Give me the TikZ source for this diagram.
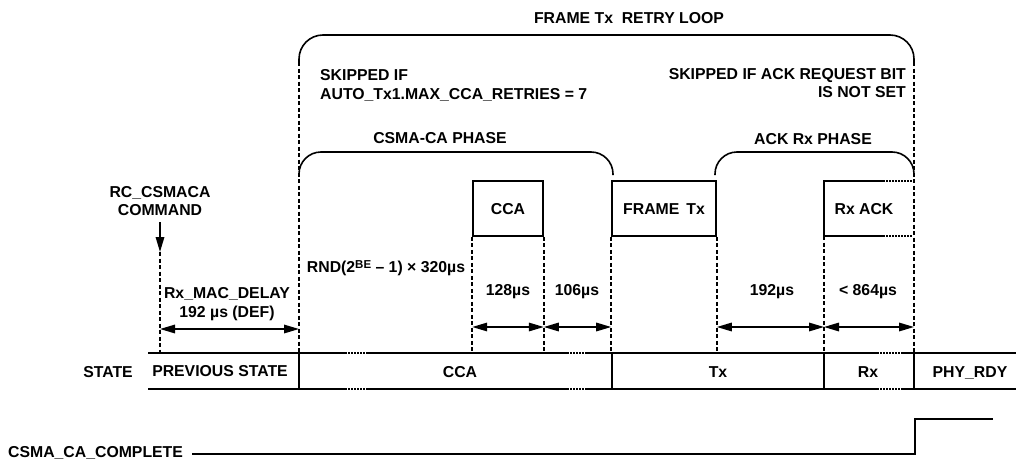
\documentclass[tikz,border=0pt]{standalone}
\usepackage{fontspec}
\setmainfont{Liberation Sans}
\usetikzlibrary{arrows.meta}
\begin{document}
\begin{tikzpicture}[x=1pt,y=-1pt,
  every node/.style={inner sep=0pt, text height=11.3pt, text depth=0pt},
  font=\bfseries\fontsize{15.8}{18}\selectfont,
  sol/.style={line width=1.6pt},
  dsh/.style={line width=1.5pt, dash pattern=on 4pt off 2.5pt},
  dtt/.style={line width=1.6pt, dash pattern=on 1.5pt off 1.5pt},
  tipA/.tip={Triangle[length=15pt,width=8.5pt]},
  dimarr/.style={line width=1.6pt, tipA-tipA},
  downarr/.style={line width=1.6pt, -tipA},
  boxn/.style={draw, line width=1.6pt, minimum width=#1, minimum height=55pt}]
\useasboundingbox (0,0) rectangle (1016,460);

% ---------- key coordinates ----------
\coordinate (bt) at (0,353);   % bar top level
\coordinate (bb) at (0,389);   % bar bottom level

% ---------- brackets ----------
\draw[sol, rounded corners=24pt] (299,62) -- (299,35) -- (914,35) -- (914,62);
\draw[sol, rounded corners=22pt] (299,175) -- (299,152) -- (613,152) -- (613,175);
\draw[sol, rounded corners=22pt] (715,175) -- (715,152) -- (914,152) -- (914,175);

% ---------- texts at top ----------
\node (title) at (629,18) {FRAME Tx\ \ RETRY LOOP};
\node[anchor=west] (skipa) at (320,75) {SKIPPED IF};
\node[anchor=west] (skipb) at (320,94) {AUTO\_Tx1.MAX\_CCA\_RETRIES = 7};
\node[anchor=east] (skipc) at (906,74) {SKIPPED IF ACK REQUEST BIT};
\node[anchor=east] (skipd) at (906,92) {IS NOT SET};
\node (csmaph) at (440,138) {CSMA-CA PHASE};
\node (ackph) at (813,139) {ACK Rx PHASE};
\node (rca) at (160,192) {RC\_CSMACA};
\node (rcb) at (160,210) {COMMAND};

% ---------- boxes ----------
\node[boxn=70pt] (ccabox) at (508,208.5) {CCA};
\node[boxn=104pt] (ftxbox) at (664,208.5) {FRAME\ \,Tx};
\coordinate (rxtl) at (824,181);
\coordinate (rxbl) at (824,236);
\coordinate (rxtm) at (883,181);
\coordinate (rxbm) at (883,236);
\coordinate (rxtr) at (912,181);
\coordinate (rxbr) at (912,236);
\draw[sol] (rxtm) -- (rxtl) -- (rxbl) -- (rxbm);
\draw[dtt] (rxtm) -- (rxtr);
\draw[dtt] (rxbm) -- (rxbr);
\node (rxack) at (864,208.5) {Rx ACK};

% ---------- command arrow ----------
\coordinate (cmdA) at (160,222);
\coordinate (cmdB) at (160,252);
\draw[downarr] (cmdA) -- (cmdB);

% ---------- dashed verticals ----------
\draw[dsh] (cmdB) -- (cmdB |- bt);
\draw[dsh] (299,62) -- (299,353);
\draw[dsh] (ccabox.south west) -- (ccabox.south west |- bt);
\draw[dsh] (ccabox.south east) -- (ccabox.south east |- bt);
\draw[dsh] (ftxbox.south west) -- (ftxbox.south west |- bt);
\draw[dsh] (ftxbox.south east) -- (ftxbox.south east |- bt);
\draw[dsh] (rxbl) -- (rxbl |- bt);
\draw[dsh] (914,62) -- (914,353);

% ---------- middle labels ----------
\node (rnd) at (386,267) {RND(2\raisebox{0.55ex}{\fontsize{11.5}{12}\selectfont BE} – 1) × 320µs};
\node (macA) at (227,293) {Rx\_MAC\_DELAY};
\node (macB) at (227,312) {192 µs (DEF)};
\node (d128) at (508,290) {128µs};
\node (d106) at (577,290) {106µs};
\node (d192) at (772,290) {192µs};
\node (d864) at (868,290) {< 864µs};

% ---------- dimension arrows ----------
\coordinate (a0) at (160,329);
\coordinate (a1) at (299,329);
\draw[dimarr] (a0) -- (a1);
\coordinate (b0) at (ccabox.south west |- 0,327);
\coordinate (b1) at (ccabox.south east |- 0,327);
\coordinate (b2) at (ftxbox.south west |- 0,327);
\coordinate (b3) at (ftxbox.south east |- 0,327);
\coordinate (b4) at (rxbl |- 0,327);
\coordinate (b5) at (914,327);
\draw[dimarr] (b0) -- (b1);
\draw[dimarr] (b1) -- (b2);
\draw[dimarr] (b3) -- (b4);
\draw[dimarr] (b4) -- (b5);

% ---------- state bar ----------
\foreach \yy in {353,389}{
  \draw[sol] (148,\yy) -- (345,\yy);
  \draw[dtt] (345,\yy) -- (368,\yy);
  \draw[sol] (368,\yy) -- (567,\yy);
  \draw[dtt] (567,\yy) -- (587,\yy);
  \draw[sol] (587,\yy) -- (877,\yy);
  \draw[dtt] (877,\yy) -- (903,\yy);
  \draw[sol] (903,\yy) -- (1016,\yy);
}
\foreach \xx in {299,612,824,914}{
  \draw[sol] (\xx,353) -- (\xx,389);
}
\node (st) at (108,372) {STATE};
\node (sprev) at (220,371) {PREVIOUS STATE};
\node (scca) at (460,372) {CCA};
\node (stx) at (718,372) {Tx};
\node (srx) at (868,372) {Rx};
\node (sphy) at (970,372) {PHY\_RDY};

% ---------- complete signal ----------
\node[anchor=west] (cmpl) at (8,452) {CSMA\_CA\_COMPLETE};
\coordinate (s0) at (192,454);
\coordinate (s1) at (915,454);
\coordinate (s2) at (915,419);
\coordinate (s3) at (993,419);
\draw[sol] (s0) -- (s1) -- (s2) -- (s3);
\end{tikzpicture}
\end{document}
